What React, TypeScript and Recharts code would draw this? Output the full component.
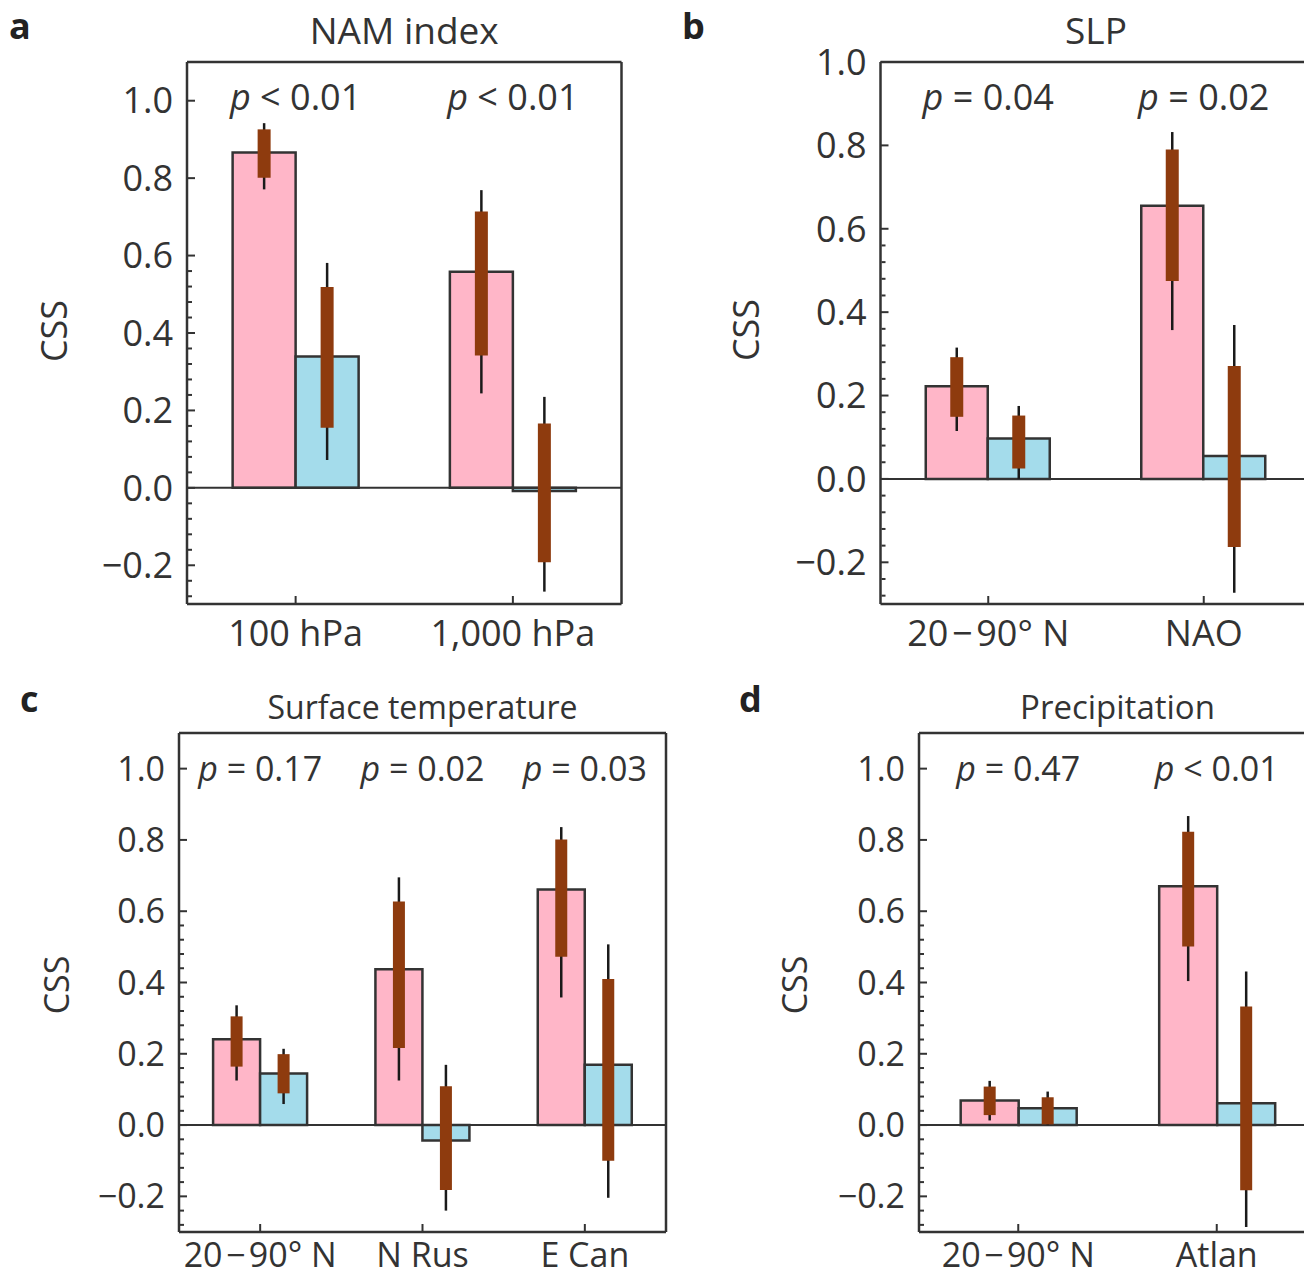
import React from "react";
import { BarChart, Bar, XAxis, YAxis, ErrorBar, ReferenceLine } from "recharts";

const FONT = '"Open Sans", "Noto Sans", sans-serif';
const INK = "#333";
const PINK = "#FFB6C8";
const BLUE = "#A4DCEB";
const BROWN = "#8E3B0E";

const CHART_W = 1400;
const CHART_H = 1277;

type Pair = [number, number];

// ---- panel a: NAM index
const aCats = ["100 hPa", "1,000 hPa"];
const aP = ["< 0.01", "< 0.01"];
const aPink = [0.866, 0.558];
const aBlue = [0.339, -0.008];
const aPinkBox: Pair[] = [[0.801, 0.926], [0.342, 0.714]];
const aPinkWhisk: Pair[] = [[0.771, 0.942], [0.244, 0.769]];
const aBlueBox: Pair[] = [[0.155, 0.519], [-0.192, 0.166]];
const aBlueWhisk: Pair[] = [[0.072, 0.581], [-0.268, 0.235]];

// ---- panel b: SLP
const bCats = ["20\u200a\u2212\u200a90° N", "NAO"];
const bP = ["= 0.04", "= 0.02"];
const bPink = [0.222, 0.655];
const bBlue = [0.097, 0.055];
const bPinkBox: Pair[] = [[0.149, 0.292], [0.475, 0.79]];
const bPinkWhisk: Pair[] = [[0.115, 0.315], [0.357, 0.832]];
const bBlueBox: Pair[] = [[0.025, 0.152], [-0.163, 0.271]];
const bBlueWhisk: Pair[] = [[0.0, 0.175], [-0.273, 0.369]];

// ---- panel c: surface temperature
const cCats = ["20\u200a\u2212\u200a90° N", "N Rus", "E Can"];
const cP = ["= 0.17", "= 0.02", "= 0.03"];
const cPink = [0.241, 0.437, 0.661];
const cBlue = [0.145, -0.043, 0.169];
const cPinkBox: Pair[] = [[0.164, 0.305], [0.216, 0.627], [0.472, 0.801]];
const cPinkWhisk: Pair[] = [[0.125, 0.336], [0.125, 0.695], [0.358, 0.836]];
const cBlueBox: Pair[] = [[0.089, 0.199], [-0.182, 0.109], [-0.1, 0.41]];
const cBlueWhisk: Pair[] = [[0.059, 0.214], [-0.24, 0.169], [-0.204, 0.507]];

// ---- panel d: precipitation
const dCats = ["20\u200a\u2212\u200a90° N", "Atlan"];
const dP = ["= 0.47", "< 0.01"];
const dPink = [0.069, 0.67];
const dBlue = [0.047, 0.061];
const dPinkBox: Pair[] = [[0.028, 0.108], [0.501, 0.823]];
const dPinkWhisk: Pair[] = [[0.013, 0.124], [0.404, 0.867]];
const dBlueBox: Pair[] = [[0.002, 0.078], [-0.183, 0.333]];
const dBlueWhisk: Pair[] = [[0.0, 0.094], [-0.286, 0.431]];

const majorTicks = [-0.2, 0, 0.2, 0.4, 0.6, 0.8, 1.0];
const minorTicks = [
  -0.28, -0.24, -0.16, -0.12, -0.08, -0.04, 0.04, 0.08, 0.12, 0.16,
  0.24, 0.28, 0.32, 0.36, 0.44, 0.48, 0.52, 0.56,
];

const rel = (v: number, r: Pair): Pair => [v - r[0], r[1] - v];

function buildRows(
  cats: string[],
  pink: number[],
  blue: number[],
  pinkBox: Pair[],
  pinkWhisk: Pair[],
  blueBox: Pair[],
  blueWhisk: Pair[]
) {
  return cats.map((name, i) => ({
    name,
    pink: pink[i],
    blue: blue[i],
    pinkBox: rel(pink[i], pinkBox[i]),
    pinkWhisk: rel(pink[i], pinkWhisk[i]),
    blueBox: rel(blue[i], blueBox[i]),
    blueWhisk: rel(blue[i], blueWhisk[i]),
  }));
}

const fmt = (v: number) => (v < 0 ? "\u2212" + Math.abs(v).toFixed(1) : v.toFixed(1));

function PTick(props: any) {
  const { x, y, index, labels, fs, dy } = props;
  return (
    <text x={x} y={y + dy} textAnchor="middle" fill={INK} fontSize={fs} fontFamily={FONT}>
      <tspan fontStyle="italic">p</tspan>
      {" " + labels[index]}
    </text>
  );
}

const EmptyTick = () => <g />;

interface Box {
  left: number;
  right: number;
  top: number;
  bottom: number;
}

function Panel(props: {
  rows: any[];
  pLabels: string[];
  box: Box;
  domain: Pair;
  fs: number;
  xMargin: number;
  thick: number;
}) {
  const { rows, pLabels, box, domain, fs, xMargin, thick } = props;
  const YW = 100;
  const XH = 40;
  const margin = {
    top: box.top,
    left: box.left - YW,
    right: CHART_W - box.right,
    bottom: CHART_H - box.bottom - XH,
  };
  const frame = { stroke: INK, strokeWidth: 2.5 };
  const tickStyle = { fill: INK, fontSize: fs, fontFamily: FONT };
  const markLine = { stroke: INK, strokeWidth: 2 };
  return (
    <div style={{ position: "absolute", left: 0, top: 0 }}>
      <BarChart
        width={CHART_W}
        height={CHART_H}
        data={rows}
        margin={margin}
        barCategoryGap="21%"
        barGap={0}
      >
        <XAxis
          xAxisId="x"
          dataKey="name"
          height={XH}
          interval={0}
          tickLine={false}
          tickSize={0}
          tickMargin={xMargin}
          axisLine={frame}
          tick={tickStyle}
        />
        <XAxis
          xAxisId="xt"
          dataKey="name"
          orientation="bottom"
          mirror
          height={1}
          interval={0}
          tick={EmptyTick}
          axisLine={{ stroke: "none" }}
          tickLine={markLine}
          tickSize={8}
        />
        <XAxis
          xAxisId="top"
          dataKey="name"
          orientation="top"
          mirror
          height={1}
          interval={0}
          tickLine={false}
          tickSize={0}
          tickMargin={0}
          axisLine={frame}
          tick={<PTick labels={pLabels} fs={fs} dy={48} />}
        />
        <YAxis
          yAxisId="y"
          type="number"
          width={YW}
          domain={domain}
          allowDataOverflow
          ticks={majorTicks}
          interval={0}
          tickFormatter={fmt}
          tickLine={false}
          tickSize={0}
          tickMargin={14}
          axisLine={frame}
          tick={tickStyle}
        />
        <YAxis
          yAxisId="ymaj"
          type="number"
          mirror
          width={1}
          domain={domain}
          allowDataOverflow
          ticks={majorTicks}
          interval={0}
          tick={EmptyTick}
          axisLine={{ stroke: "none" }}
          tickLine={markLine}
          tickSize={8}
        />
        <YAxis
          yAxisId="ymin"
          type="number"
          mirror
          width={1}
          domain={domain}
          allowDataOverflow
          ticks={minorTicks}
          interval={0}
          tick={EmptyTick}
          axisLine={{ stroke: "none" }}
          tickLine={markLine}
          tickSize={4}
        />
        <YAxis
          yAxisId="r"
          type="number"
          orientation="right"
          mirror
          width={1}
          domain={domain}
          allowDataOverflow
          tick={false}
          tickLine={false}
          axisLine={frame}
        />
        <ReferenceLine xAxisId="x" yAxisId="y" y={0} stroke={INK} strokeWidth={2} />
        <Bar
          xAxisId="x"
          yAxisId="y"
          dataKey="pink"
          fill={PINK}
          stroke={INK}
          strokeWidth={2.5}
          isAnimationActive={false}
        >
          <ErrorBar dataKey="pinkWhisk" direction="y" width={0} stroke="#1a1a1a" strokeWidth={2.5} isAnimationActive={false} />
          <ErrorBar dataKey="pinkBox" direction="y" width={0} stroke={BROWN} strokeWidth={thick} isAnimationActive={false} />
        </Bar>
        <Bar
          xAxisId="x"
          yAxisId="y"
          dataKey="blue"
          fill={BLUE}
          stroke={INK}
          strokeWidth={2.5}
          isAnimationActive={false}
        >
          <ErrorBar dataKey="blueWhisk" direction="y" width={0} stroke="#1a1a1a" strokeWidth={2.5} isAnimationActive={false} />
          <ErrorBar dataKey="blueBox" direction="y" width={0} stroke={BROWN} strokeWidth={thick} isAnimationActive={false} />
        </Bar>
      </BarChart>
    </div>
  );
}

const boxA: Box = { left: 187, right: 621.5, top: 62, bottom: 604 };
const boxB: Box = { left: 880.5, right: 1311.5, top: 62, bottom: 604 };
const boxC: Box = { left: 179, right: 666, top: 733, bottom: 1232 };
const boxD: Box = { left: 919, right: 1316, top: 733, bottom: 1232 };

function Overlay() {
  const txt = { fill: INK, fontFamily: FONT } as const;
  const mid = (b: Box) => (b.left + b.right) / 2;
  const css = (x: number, y: number, fs: number) => (
    <text
      x={x}
      y={y}
      transform={`rotate(-90 ${x} ${y})`}
      textAnchor="middle"
      dominantBaseline="central"
      fontSize={fs}
      {...txt}
    >
      CSS
    </text>
  );
  return (
    <svg
      width={1304}
      height={1277}
      style={{ position: "absolute", left: 0, top: 0, pointerEvents: "none" }}
    >
      <g fontWeight="bold" fontSize={36} fill="#222" fontFamily={FONT}>
        <text x={9} y={39}>a</text>
        <text x={682} y={39}>b</text>
        <text x={20} y={712}>c</text>
        <text x={739} y={712}>d</text>
      </g>
      <text x={mid(boxA)} y={44} textAnchor="middle" fontSize={37} {...txt}>NAM index</text>
      <text x={mid(boxB)} y={44} textAnchor="middle" fontSize={37} {...txt}>SLP</text>
      <text x={mid(boxC)} y={719} textAnchor="middle" fontSize={32} {...txt}>Surface temperature</text>
      <text x={mid(boxD)} y={719} textAnchor="middle" fontSize={33} {...txt}>Precipitation</text>
      {css(53, 331, 36)}
      {css(745, 330, 36)}
      {css(56, 985, 34)}
      {css(794, 985, 34)}
    </svg>
  );
}

export default function App() {
  const rowsA = buildRows(aCats, aPink, aBlue, aPinkBox, aPinkWhisk, aBlueBox, aBlueWhisk);
  const rowsB = buildRows(bCats, bPink, bBlue, bPinkBox, bPinkWhisk, bBlueBox, bBlueWhisk);
  const rowsC = buildRows(cCats, cPink, cBlue, cPinkBox, cPinkWhisk, cBlueBox, cBlueWhisk);
  const rowsD = buildRows(dCats, dPink, dBlue, dPinkBox, dPinkWhisk, dBlueBox, dBlueWhisk);
  return (
    <div
      style={{
        position: "absolute",
        left: 0,
        top: 0,
        width: 1304,
        height: 1277,
        overflow: "hidden",
        background: "#fff",
      }}
    >
      <Panel rows={rowsA} pLabels={aP} box={boxA} domain={[-0.3, 1.1]} fs={36} xMargin={16} thick={13} />
      <Panel rows={rowsB} pLabels={bP} box={boxB} domain={[-0.3, 1.0]} fs={36} xMargin={16} thick={13} />
      <Panel rows={rowsC} pLabels={cP} box={boxC} domain={[-0.3, 1.1]} fs={34} xMargin={11} thick={12} />
      <Panel rows={rowsD} pLabels={dP} box={boxD} domain={[-0.3, 1.1]} fs={34} xMargin={11} thick={12} />
      <Overlay />
    </div>
  );
}
